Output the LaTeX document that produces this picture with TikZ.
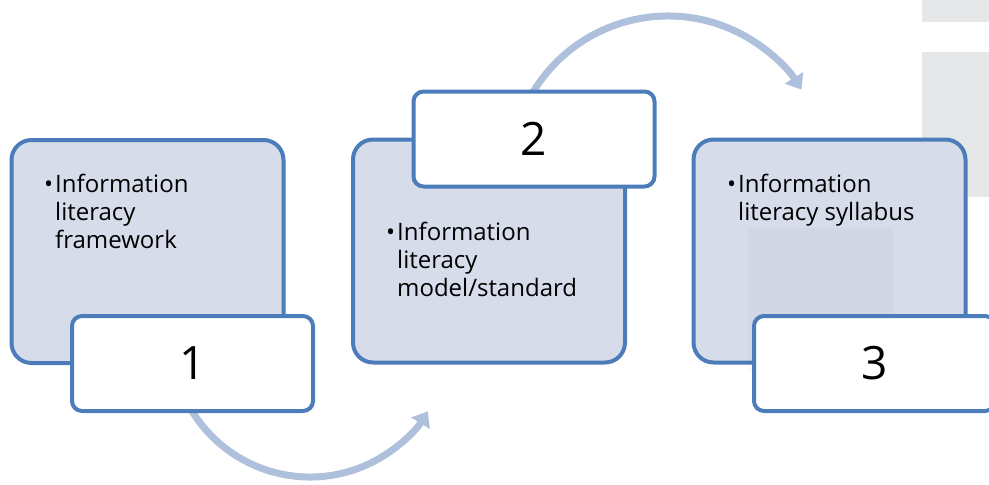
\documentclass[tikz,border=0pt]{standalone}
\usepackage{fontspec}
\setmainfont{Open Sans}
\usetikzlibrary{arrows.meta}
\definecolor{bordercol}{RGB}{76,125,186}
\definecolor{fillcol}{RGB}{214,220,234}
\definecolor{arrowcol}{RGB}{175,192,220}
\definecolor{greycol}{RGB}{230,231,233}
\tikzset{
  bigbox/.style={draw=bordercol, fill=fillcol, line width=4pt, rounded corners=20pt,
    minimum width=272pt, minimum height=223pt, inner sep=0pt},
  numbox/.style={draw=bordercol, fill=white, line width=4pt, rounded corners=10pt,
    minimum width=241pt, minimum height=95pt, inner sep=0pt, font=\fontsize{46}{50}\selectfont},
  txt/.style={anchor=base west, inner sep=0pt, font=\fontsize{24}{28}\selectfont},
  flowarrow/.style={draw=arrowcol, line width=7pt, -{Triangle[width=21pt,length=14pt]}},
  greybg/.style={fill=greycol, draw=none}
}
\begin{document}
\begin{tikzpicture}[x=1pt,y=-1pt]
\useasboundingbox (0,0) rectangle (989,485);
% background grey rectangles
\fill[greybg] (922,0) rectangle (989,22);
\fill[greybg] (922,52) rectangle (989,197);
% arrows
\coordinate (c1) at (310,338.5);
\coordinate (c2) at (668,173.7);
\path (c1) ++(150:138.5) coordinate (a1s);
\path (c2) ++(210:157.7) coordinate (a2s);
\draw[flowarrow] (a1s) arc[start angle=150, end angle=31.7, radius=138.5] coordinate (a1e);
\draw[flowarrow] (a2s) arc[start angle=210, end angle=327.8, radius=157.7] coordinate (a2e);
% big boxes
\node[bigbox] (b1) at (147.5,251.5) {};
\node[bigbox] (b2) at (489,251) {};
\node[bigbox] (b3) at (829.5,251) {};
\fill[black, opacity=0.02] (748,228) rectangle (893,373);
% texts
\node[txt] (bu1) at (44,192) {\textbullet};
\node[txt] (t1a) at (55,192) {Information};
\node[txt] (t1b) at (55,220) {literacy};
\node[txt] (t1c) at (55,248) {framework};
\node[txt] (bu2) at (386,240) {\textbullet};
\node[txt] (t2a) at (397,240) {Information};
\node[txt] (t2b) at (397,268) {literacy};
\node[txt] (t2c) at (397,296) {model/standard};
\node[txt] (bu3) at (727,192) {\textbullet};
\node[txt] (t3a) at (738,192) {Information};
\node[txt] (t3b) at (738,220) {literacy syllabus};
% number boxes
\node[numbox] (n1) at (192.5,363.5) {1};
\node[numbox] (n2) at (534,139) {2};
\node[numbox] (n3) at (874.5,363.5) {3};
\end{tikzpicture}
\end{document}
